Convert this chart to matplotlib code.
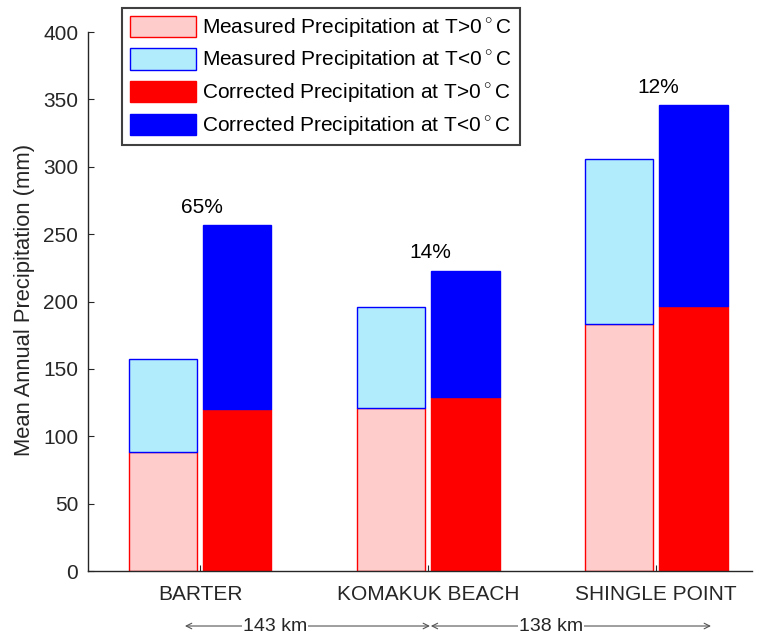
import numpy as np
import matplotlib.pyplot as plt
import matplotlib.transforms as mtransforms

plt.rcParams['font.family'] = ['Liberation Sans', 'DejaVu Sans']
plt.rcParams['mathtext.fontset'] = 'custom'
plt.rcParams['mathtext.rm'] = 'Liberation Sans'

stations = ['BARTER', 'KOMAKUK BEACH', 'SHINGLE POINT']
meas_warm = [88, 121, 183]
meas_cold = [69, 75, 123]
corr_warm = [120, 129, 197]
corr_cold = [137, 94, 149]
pct_labels = ['65%', '14%', '12%']
distances = ['143 km', '138 km']

x = np.arange(1, len(stations) + 1)
w = 0.30
off = 0.163
dark = '#262626'
fs = 15
deg = '$\\,^{\\circ}\\,$C'

fig = plt.figure(figsize=(7.6, 6.33), dpi=100)
ax = fig.add_axes([0.1158, 0.0979, 0.8737, 0.8515])

ax.bar(x - off, meas_warm, w, color='#ffcccc', edgecolor='red', linewidth=1,
       label='Measured Precipitation at T>0' + deg)
ax.bar(x - off, meas_cold, w, bottom=meas_warm, color='#b0ecfc', edgecolor='blue',
       linewidth=1, label='Measured Precipitation at T<0' + deg)
ax.bar(x + off, corr_warm, w, color='red', edgecolor='red', linewidth=1,
       label='Corrected Precipitation at T>0' + deg)
ax.bar(x + off, corr_cold, w, bottom=corr_warm, color='blue', edgecolor='blue',
       linewidth=1, label='Corrected Precipitation at T<0' + deg)

totals = np.array(corr_warm) + np.array(corr_cold)
for xi, t, lab in zip(x, totals, pct_labels):
    ax.text(xi + 0.01, t + 6, lab, ha='center', va='bottom', fontsize=fs, color='black')

ax.set_xlim(0.509, 3.42)
ax.set_ylim(0, 400)
ax.set_yticks(np.arange(0, 401, 50))
ax.set_xticks(x)
ax.set_xticklabels(stations)
ax.set_ylabel('Mean Annual Precipitation (mm)', fontsize=fs + 0.8, color=dark)
ax.yaxis.set_label_coords(-0.080, 0.503)

for s in ['top', 'right']:
    ax.spines[s].set_visible(False)
for s in ['left', 'bottom']:
    ax.spines[s].set_color(dark)
    ax.spines[s].set_linewidth(1)
ax.tick_params(axis='both', direction='in', colors=dark, labelsize=fs, length=4)
ax.tick_params(axis='x', pad=10)
ax.tick_params(axis='y', pad=7)

leg = ax.legend(loc='upper left', bbox_to_anchor=(0.051, 1.045), fontsize=fs,
                fancybox=False, framealpha=1, edgecolor='#404040',
                handlelength=3.2, handleheight=1.2, labelspacing=0.42,
                handletextpad=0.25, borderpad=0.38, borderaxespad=0)
leg.get_frame().set_linewidth(1.5)

# distance arrows between stations
trans = mtransforms.blended_transform_factory(ax.transData, ax.transAxes)
arrow_y = -0.102
arrow_kw = dict(arrowstyle='<->', color='#555555', lw=0.8,
                shrinkA=0, shrinkB=0, mutation_scale=10)
ax.annotate('', xy=(0.934, arrow_y), xytext=(2.008, arrow_y), xycoords=trans,
            textcoords=trans, arrowprops=arrow_kw, annotation_clip=False)
ax.annotate('', xy=(2.012, arrow_y), xytext=(3.24, arrow_y), xycoords=trans,
            textcoords=trans, arrowprops=arrow_kw, annotation_clip=False)
for xt, lab in zip([1.33, 2.54], distances):
    ax.text(xt, arrow_y, lab, transform=trans, ha='center', va='center',
            fontsize=14, color=dark, clip_on=False,
            bbox=dict(facecolor='white', edgecolor='none', pad=0.5))

fig.savefig('out.png', dpi=100)
